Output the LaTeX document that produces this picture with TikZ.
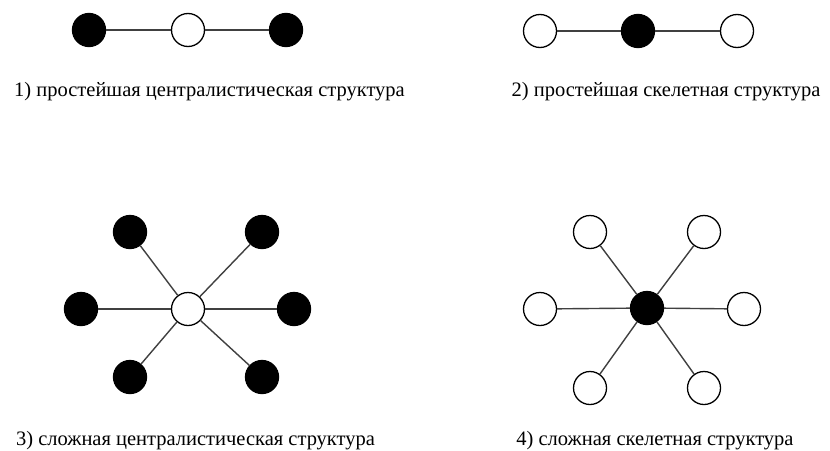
\documentclass[tikz,border=0pt]{standalone}
\usepackage{fontspec}
\setmainfont{Liberation Serif}
\usepackage{tikz}

\begin{document}
\begin{tikzpicture}[x=1pt,y=-1pt,
    empty/.style={circle,draw=black,line width=1.3pt,fill=white,minimum size=33pt,inner sep=0pt},
    full/.style={circle,draw=black,line width=1.3pt,fill=black,minimum size=33pt,inner sep=0pt},
    link/.style={draw=black!75,line width=1.4pt},
    caption/.style={anchor=base,inner sep=0pt,font=\fontsize{20.5}{23}\selectfont}]
    \useasboundingbox[fill=white] (0,0) rectangle (830,450);
    % 1) simplest centralist structure
    \node[full] (a1) at (89,30) {};
    \node[empty] (a2) at (188,30) {};
    \node[full] (a3) at (286,30) {};
    \draw[link] (a1) -- (a2) -- (a3);
    \node[caption] (ca) at (209.5,96) {1) простейшая централистическая структура};
    % 2) simplest skeletal structure
    \node[empty] (b1) at (540,31) {};
    \node[full] (b2) at (638,31) {};
    \node[empty] (b3) at (737,31) {};
    \draw[link] (b1) -- (b2) -- (b3);
    \node[caption] (cb) at (666,96) {2) простейшая скелетная структура};
    % 3) complex centralist structure
    \node[empty] (c0) at (188,309) {};
    \node[full] (c1) at (130,232) {};
    \node[full] (c2) at (262,232) {};
    \node[full] (c3) at (81,309) {};
    \node[full] (c4) at (294,309) {};
    \node[full] (c5) at (130,377) {};
    \node[full] (c6) at (262,377) {};
    \foreach \i in {1,...,6}
        \draw[link] (c0) -- (c\i);
    \node[caption] (cc) at (195.5,445) {3) сложная централистическая структура};
    % 4) complex skeletal structure
    \node[full] (d0) at (647,308) {};
    \node[empty] (d1) at (590,232) {};
    \node[empty] (d2) at (704,232) {};
    \node[empty] (d3) at (540,309) {};
    \node[empty] (d4) at (744,309) {};
    \node[empty] (d5) at (590,388) {};
    \node[empty] (d6) at (704,388) {};
    \foreach \i in {1,...,6}
        \draw[link] (d0) -- (d\i);
    \node[caption] (cd) at (655,445) {4) сложная скелетная структура};
\end{tikzpicture}
\end{document}
